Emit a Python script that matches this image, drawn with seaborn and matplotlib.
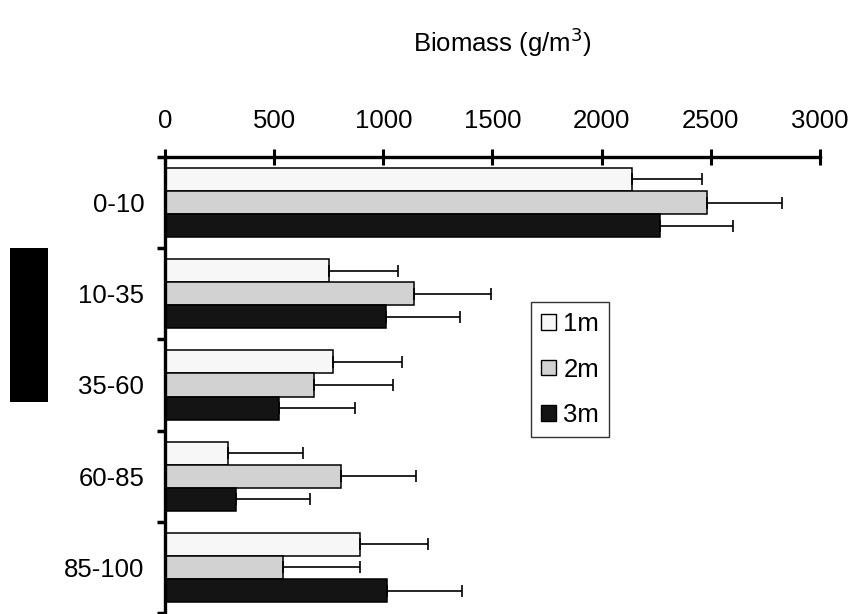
import matplotlib
matplotlib.use("Agg")
import matplotlib.pyplot as plt
import seaborn as sns
import pandas as pd
from matplotlib.patches import Patch, Rectangle

depths = ["0-10", "10-35", "35-60", "60-85", "85-100"]
groups = ["1m", "2m", "3m"]
biomass_1m = [2139, 751, 770, 289, 893]
biomass_2m = [2483, 1140, 683, 806, 540]
biomass_3m = [2267, 1012, 522, 325, 1017]
err_1m = [321, 316, 316, 343, 312]
err_2m = [343, 353, 361, 344, 353]
err_3m = [335, 339, 348, 339, 343]
x_ticks = [0, 500, 1000, 1500, 2000, 2500, 3000]

colors = {"1m": "#f7f7f7", "2m": "#d2d2d2", "3m": "#141414"}

rows = []
for g, vals in zip(groups, [biomass_1m, biomass_2m, biomass_3m]):
    for d, v in zip(depths, vals):
        rows.append({"depth": d, "group": g, "biomass": v})
df = pd.DataFrame(rows)
errs = {"1m": err_1m, "2m": err_2m, "3m": err_3m}

sns.set_style("white")
plt.rcParams["font.family"] = ["Liberation Sans", "DejaVu Sans"]
plt.rcParams["text.color"] = "black"
plt.rcParams["xtick.color"] = "black"
plt.rcParams["ytick.color"] = "black"
plt.rcParams["axes.labelcolor"] = "black"
fs = 18.5

fig = plt.figure(figsize=(8.53, 6.14), dpi=100)
ax = fig.add_axes([165 / 853, 1 / 614, 655 / 853, 456 / 614])

sns.barplot(data=df, x="biomass", y="depth", hue="group", order=depths,
            hue_order=groups, palette=colors, orient="h", width=0.76,
            edgecolor="black", linewidth=1.1, errorbar=None, ax=ax)

# one-sided error bars on every bar
for g, container in zip(groups, ax.containers):
    for bar, e in zip(container, errs[g]):
        yc = bar.get_y() + bar.get_height() / 2
        ax.errorbar(bar.get_width(), yc, xerr=[[0], [e]], fmt="none",
                    ecolor="black", elinewidth=1.2, capsize=4.3, capthick=1.2)

ax.set_xlim(0, 3000)
ax.set_ylim(4.5, -0.5)
ax.xaxis.tick_top()
ax.set_xticks(x_ticks)
ax.set_xticklabels([str(t) for t in x_ticks])
ax.tick_params(axis="x", direction="inout", length=12, width=2.2, pad=11,
               labelsize=fs, color="black", labelcolor="black")
ax.set_yticks(range(len(depths)))
ax.set_yticklabels(depths)
ax.set_yticks([i - 0.5 for i in range(len(depths) + 1)], minor=True)
ax.tick_params(axis="y", which="major", length=0, pad=15, labelsize=fs,
               labelcolor="black")
ax.tick_params(axis="y", which="minor", direction="out", length=6, width=2.5,
               color="black", left=True)
ax.set_xlabel("")
ax.set_ylabel("")

for side in ["bottom", "right"]:
    ax.spines[side].set_visible(False)
for side in ["top", "left"]:
    ax.spines[side].set_linewidth(2.4)
    ax.spines[side].set_color("black")

ax.get_legend().remove()
handles = [Patch(facecolor=colors[g], edgecolor="black", linewidth=1, label=g)
           for g in groups]
leg = ax.legend(handles=handles, loc="upper left", bbox_to_anchor=(0.559, 0.682),
                borderaxespad=0, fontsize=fs, handlelength=0.55, handleheight=0.55,
                handletextpad=0.3, labelspacing=0.83, borderpad=0.4,
                fancybox=False, edgecolor="black", labelcolor="black")
leg.get_frame().set_linewidth(1)

fig.text(502 / 853, 1 - 42 / 614, "Biomass (g/m$^3$)", ha="center", va="center",
         fontsize=fs, color="black")
fig.patches.append(Rectangle((10 / 853, 1 - 402 / 614), 38 / 853, 154 / 614,
                             transform=fig.transFigure, facecolor="black",
                             edgecolor="none"))

fig.savefig("out.png", dpi=100)
